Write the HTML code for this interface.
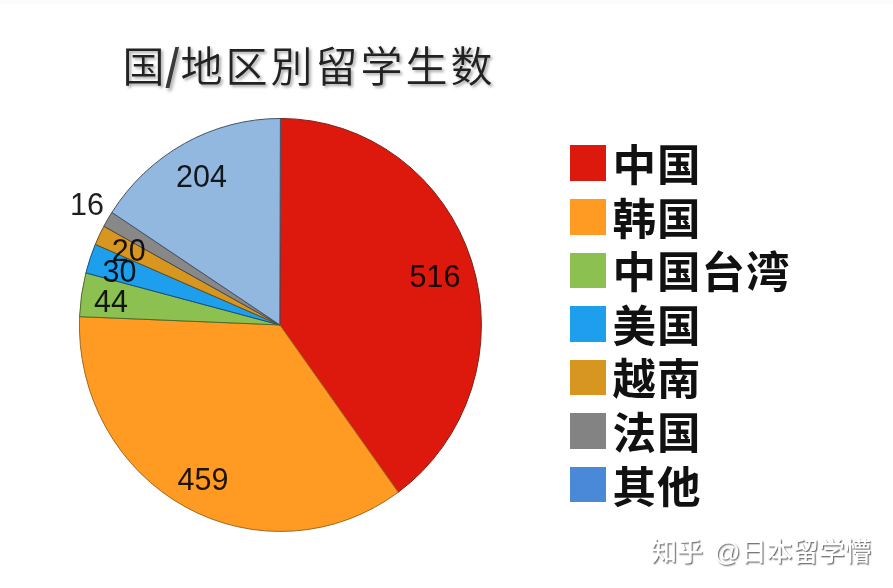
<!DOCTYPE html>
<html lang="zh"><head><meta charset="utf-8"><title>国/地区別留学生数</title>
<style>
html,body{margin:0;padding:0;background:#fff;}
body{width:893px;height:588px;position:relative;overflow:hidden;font-family:"Liberation Sans","Noto Sans CJK SC",sans-serif;}
.title{position:absolute;left:122.6px;top:37.7px;font-family:"Liberation Sans","Noto Sans CJK JP",sans-serif;font-weight:350;font-size:42px;line-height:60px;color:#222;white-space:nowrap;text-shadow:2px 2px 3px rgba(0,0,0,.35);letter-spacing:3px;}
.title i{display:inline-block;font-style:normal;font-size:1.08em;margin:0 -1.2px 0 -1.6px;position:relative;top:2px;line-height:0;transform:scale(1.08,1.22);color:#3a3a3a;}
svg{position:absolute;left:0;top:0;}
svg text{font-family:"Liberation Sans",sans-serif;font-size:30.5px;fill:#000;fill-opacity:.88;}
.topband{position:absolute;left:0;top:0;width:893px;height:4px;background:#fcfcfc;}
.lg{position:absolute;left:570.2px;height:36px;white-space:nowrap;}
.sw{position:absolute;left:0;top:0;width:35.7px;height:35.6px;}
.lt{position:absolute;left:42.4px;top:-9.3px;font-family:"Liberation Sans","Noto Sans CJK SC",sans-serif;font-weight:bold;font-size:43.5px;letter-spacing:1px;line-height:60px;color:#111;}
.wm{position:absolute;left:651px;top:534.2px;font-family:"Liberation Sans","Noto Sans CJK SC",sans-serif;font-size:26.1px;line-height:36px;color:#fff;white-space:nowrap;word-spacing:3.5px;font-weight:500;text-shadow:1px 1px 1px rgba(0,0,0,.5),1.5px 1.5px 1px rgba(0,0,0,.15);}
</style></head><body>
<div class="topband"></div>
<div class="title">国<i>/</i>地区別留学生数</div>
<svg width="893" height="588" viewBox="0 0 893 588">
<path d="M279.8 324.9 L280.40 118.45 A201.0 206.5 0 0 1 398.23 492.25 Z" fill="#DD190E" stroke="#7a2416" stroke-width="1" stroke-linejoin="round"/>
<path d="M279.8 324.9 L398.23 492.25 A201.0 206.5 0 0 1 79.56 316.65 Z" fill="#FF9A22" stroke="#a06a1c" stroke-width="1" stroke-linejoin="round"/>
<path d="M279.8 324.9 L79.56 316.65 A201.0 206.5 0 0 1 85.88 272.92 Z" fill="#8CC152" stroke="#4c6a2a" stroke-width="1" stroke-linejoin="round"/>
<path d="M279.8 324.9 L85.88 272.92 A201.0 206.5 0 0 1 95.34 244.36 Z" fill="#1E9FEE" stroke="#16507c" stroke-width="1" stroke-linejoin="round"/>
<path d="M279.8 324.9 L95.34 244.36 A201.0 206.5 0 0 1 103.85 226.24 Z" fill="#D69620" stroke="#6a4e16" stroke-width="1" stroke-linejoin="round"/>
<path d="M279.8 324.9 L103.85 226.24 A201.0 206.5 0 0 1 111.88 212.40 Z" fill="#888888" stroke="#4a4a4a" stroke-width="1" stroke-linejoin="round"/>
<path d="M279.8 324.9 L111.88 212.40 A201.0 206.5 0 0 1 280.40 118.45 Z" fill="#92B8E0" stroke="#445468" stroke-width="1" stroke-linejoin="round"/>
<text x="435" y="287" text-anchor="middle">516</text>
<text x="203" y="490" text-anchor="middle">459</text>
<text x="111" y="311.6" text-anchor="middle">44</text>
<text x="119.5" y="281.6" text-anchor="middle">30</text>
<text x="128.8" y="261.4" text-anchor="middle">20</text>
<text x="87" y="215" text-anchor="middle">16</text>
<text x="201.5" y="187" text-anchor="middle">204</text>
</svg>
<div class="lg" style="top:145.4px"><span class="sw" style="background:#DD190E"></span><span class="lt">中国</span></div>
<div class="lg" style="top:199.0px"><span class="sw" style="background:#FF9A22"></span><span class="lt">韩国</span></div>
<div class="lg" style="top:252.5px"><span class="sw" style="background:#8CC152"></span><span class="lt">中国台湾</span></div>
<div class="lg" style="top:306.1px"><span class="sw" style="background:#1E9FEE"></span><span class="lt">美国</span></div>
<div class="lg" style="top:359.7px"><span class="sw" style="background:#D69620"></span><span class="lt">越南</span></div>
<div class="lg" style="top:413.2px"><span class="sw" style="background:#838383"></span><span class="lt">法国</span></div>
<div class="lg" style="top:466.8px"><span class="sw" style="background:#4A88D8"></span><span class="lt">其他</span></div>

<div class="wm">知乎 @日本留学懵</div>
</body></html>
